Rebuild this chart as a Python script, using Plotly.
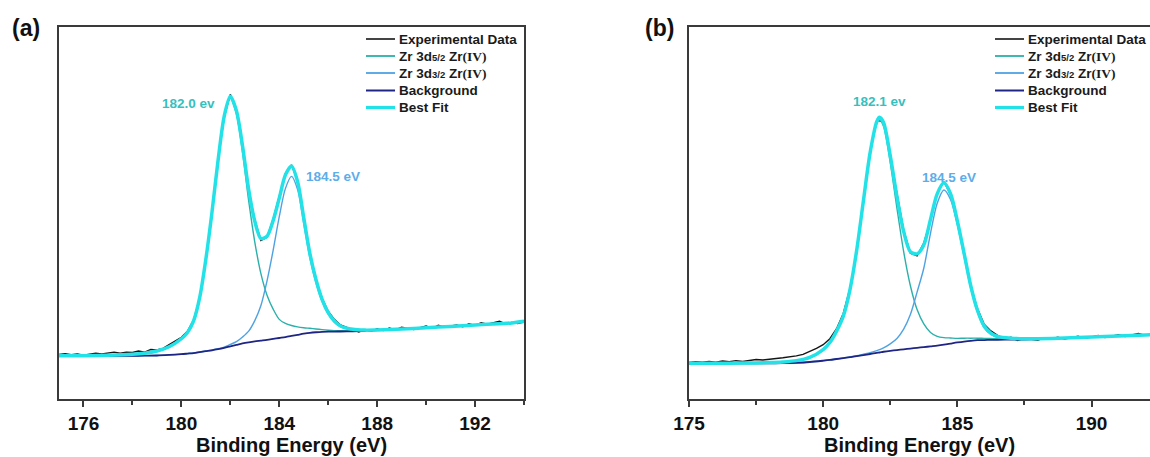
import numpy as np
import plotly.graph_objects as go

W, H = 1150, 457
FONT = "Liberation Sans, Arial, Helvetica, sans-serif"

# line colours
C_DATA = "#151515"
C_D52 = "#2AB0AA"
C_D32 = "#4FA2E2"
C_BG = "#1E2584"
C_FIT = "#22E2E8"
C_LBL52 = "#36C0BE"
C_LBL32 = "#5CADEA"
C_AX = "#3a3a3a"

SERIES_NAMES = [
    "<b>Experimental Data</b>",
    "<b>Zr 3d</b><span style='font-size:9.5px'><b>5/2</b></span><b> Zr</b>"
    "<span style='font-family:Liberation Serif'><b>(IV)</b></span>",
    "<b>Zr 3d</b><span style='font-size:9.5px'><b>3/2</b></span><b> Zr</b>"
    "<span style='font-family:Liberation Serif'><b>(IV)</b></span>",
    "<b>Background</b>",
    "<b>Best Fit</b>",
]

# ---------------- panel (a) ----------------
a_exp_start = 175.0
a_exp_step = 0.25
a_exp = [
    12.0, 12.2, 11.9, 12.1, 11.8, 12.0, 12.3, 12.1, 12.4, 12.6,
    12.3, 12.6, 12.5, 12.9, 12.6, 13.3, 13.2, 13.6, 14.6, 15.5,
    16.6, 18.2, 21.3, 27.1, 37.8, 50.0, 64.4, 75.7, 81.9, 77.2,
    68.3, 56.0, 48.1, 42.6, 43.5, 48.4, 54.5, 60.6, 62.9, 58.7,
    48.9, 39.4, 32.0, 27.1, 23.6, 21.4, 19.9, 19.3, 18.5, 18.0,
    18.6, 18.2, 18.9, 18.4, 19.1, 18.6, 19.3, 18.9, 18.7, 19.2,
    19.6, 19.0, 19.8, 19.3, 19.7, 19.9, 19.4, 20.2, 19.8, 20.5,
    20.1, 20.4, 20.9, 20.2, 20.6, 20.3, 21.1,
]
a_model_x = [
    175, 176, 177, 178, 178.5, 179, 179.5, 180, 180.25, 180.5, 180.75,
    181, 181.25, 181.5, 181.75, 182, 182.25, 182.5, 182.75, 183, 183.25,
    183.5, 183.75, 184, 184.25, 184.5, 184.75, 185, 185.25, 185.5, 185.75,
    186, 186.25, 186.5, 187, 187.5, 188, 189, 190, 191, 192, 193, 193.5, 194,
]
a_bg = [
    11.6, 11.6, 11.6, 11.6, 11.65, 11.7, 11.85, 12.05, 12.2, 12.35, 12.6,
    12.85, 13.1, 13.4, 13.75, 14.15, 14.55, 14.95, 15.25, 15.5, 15.7,
    15.9, 16.15, 16.4, 16.65, 16.95, 17.25, 17.55, 17.8, 17.95, 18.05,
    18.1, 18.12, 18.15, 18.2, 18.3, 18.5, 18.8, 19.15, 19.5, 19.9, 20.25, 20.4, 20.7,
]
a_d52 = [
    11.6, 11.62, 11.73, 12.0, 12.3, 12.9, 14.05, 16.2, 17.9, 21.0, 27.3,
    37.5, 50.1, 64.1, 75.8, 80.85, 76.6, 66.3, 53.3, 42.2, 33.7,
    27.9, 24.15, 21.4, 20.32, 19.75, 19.38, 19.15, 19.0, 18.82, 18.65,
    18.5, 18.39, 18.35, 18.3, 18.35, 18.52, 18.81, 19.15, 19.5, 19.9, 20.25, 20.4, 20.7,
]
a_d32 = [
    11.6, 11.6, 11.6, 11.6, 11.65, 11.7, 11.85, 12.05, 12.2, 12.37, 12.63,
    12.9, 13.17, 13.5, 13.95, 14.66, 15.41, 16.67, 18.25, 21.08, 25.14,
    31.77, 39.96, 49.0, 56.55, 59.85, 56.29, 47.15, 37.96, 31.25, 26.2,
    22.82, 20.69, 19.44, 18.63, 18.47, 18.57, 18.8, 19.15, 19.5, 19.9, 20.25, 20.4, 20.7,
]
a_fit = [
    11.6, 11.62, 11.73, 12.0, 12.3, 12.9, 14.05, 16.2, 17.9, 21.02, 27.33,
    37.55, 50.17, 64.2, 76.0, 81.36, 77.46, 68.02, 56.3, 47.78, 43.14,
    43.77, 47.96, 54.0, 60.22, 62.65, 58.42, 48.75, 39.16, 32.12, 26.8,
    23.22, 20.96, 19.64, 18.73, 18.52, 18.57, 18.81, 19.15, 19.5, 19.9, 20.25, 20.45, 20.9,
]
a_peak_labels = ["182.0 ev", "184.5 eV"]
a_peak_label_pos = [(180.28, 79.5), (186.2, 59.8)]

# ---------------- panel (b) ----------------
b_exp_start = 175.0
b_exp_step = 0.25
b_exp = [
    9.8, 10.0, 9.9, 10.1, 9.9, 10.2, 10.0, 10.3, 10.1, 10.4,
    10.6, 10.5, 10.8, 10.9, 11.1, 11.3, 11.6, 12.0, 12.7, 13.6,
    14.6, 16.2, 18.9, 23.0, 29.8, 39.6, 53.0, 66.6, 74.9, 74.6,
    65.1, 54.8, 45.4, 39.2, 38.5, 41.9, 48.0, 55.4, 58.4, 55.0,
    47.6, 39.6, 30.2, 24.3, 20.1, 18.3, 17.1, 16.2, 16.6, 15.7,
    16.3, 16.0, 15.8, 16.5, 16.2, 16.6, 16.1, 16.5, 16.9, 16.3,
    16.7, 17.1, 16.5, 16.9, 17.3, 16.8, 17.2, 17.6, 17.1, 17.4,
    17.3,
]
b_model_x = [
    175, 176, 177, 178, 178.5, 179, 179.5, 180, 180.25, 180.5, 180.75,
    181, 181.25, 181.5, 181.75, 182, 182.1, 182.25, 182.5, 182.75, 183,
    183.25, 183.5, 183.75, 184, 184.25, 184.5, 184.75, 185, 185.25, 185.5,
    185.75, 186, 186.25, 186.5, 187, 187.5, 188, 189, 190, 191, 192, 192.5,
]
b_bg = [
    9.6, 9.6, 9.6, 9.6, 9.65, 9.75, 9.95, 10.3, 10.5, 10.75, 11.0,
    11.25, 11.5, 11.8, 12.1, 12.4, 12.5, 12.7, 12.95, 13.15, 13.35,
    13.55, 13.75, 13.95, 14.15, 14.35, 14.6, 14.9, 15.2, 15.45, 15.65,
    15.8, 15.85, 15.9, 15.92, 15.95, 16.0, 16.1, 16.35, 16.65, 16.95, 17.2, 17.35,
]
b_d52 = [
    9.6, 9.62, 9.66, 9.79, 9.96, 10.31, 11.2, 13.3, 15.19, 18.25, 22.25,
    29.35, 39.9, 53.05, 65.85, 74.0, 75.0, 73.3, 63.55, 51.25, 39.6,
    30.45, 24.05, 20.2, 17.9, 16.85, 16.5, 16.4, 16.3, 16.35, 16.35,
    16.35, 16.3, 16.27, 16.22, 16.17, 16.15, 16.2, 16.38, 16.66, 16.95, 17.2, 17.35,
]
b_d32 = [
    9.6, 9.6, 9.6, 9.6, 9.65, 9.75, 9.95, 10.3, 10.5, 10.75, 11.02,
    11.33, 11.62, 12.05, 12.48, 13.02, 13.25, 13.74, 14.82, 16.27, 18.76,
    22.7, 28.73, 35.15, 44.55, 52.65, 56.2, 53.6, 46.8, 38.35, 29.75,
    23.3, 19.15, 17.36, 16.54, 16.12, 16.04, 16.1, 16.35, 16.65, 16.95, 17.2, 17.35,
]
b_fit = [
    9.6, 9.62, 9.66, 9.79, 9.96, 10.31, 11.2, 13.3, 15.19, 18.25, 22.27,
    29.43, 40.02, 53.3, 66.23, 74.62, 75.75, 74.34, 65.42, 54.37, 45.01,
    39.6, 39.03, 41.4, 48.3, 55.15, 58.1, 55.1, 47.9, 39.25, 30.45,
    23.85, 19.6, 17.73, 16.84, 16.34, 16.19, 16.2, 16.38, 16.66, 16.95, 17.2, 17.35,
]
b_peak_labels = ["182.1 ev", "184.5 eV"]
b_peak_label_pos = [(182.1, 80.0), (184.7, 59.6)]


def px(xp):
    return xp / W


def py(yp):
    return 1 - yp / H


fig = go.Figure()

panels = [
    dict(xa="x", ya="y", exp=a_exp, exp0=a_exp_start, dx=a_exp_step, mx=a_model_x,
         bg=a_bg, d52=a_d52, d32=a_d32, fit=a_fit),
    dict(xa="x2", ya="y2", exp=b_exp, exp0=b_exp_start, dx=b_exp_step, mx=b_model_x,
         bg=b_bg, d52=b_d52, d32=b_d32, fit=b_fit),
]

for p in panels:
    exp_x = p["exp0"] + p["dx"] * np.arange(len(p["exp"]))
    fig.add_trace(go.Scatter(x=exp_x, y=p["exp"], mode="lines", name="Experimental Data",
                             line=dict(color=C_DATA, width=1.4), xaxis=p["xa"], yaxis=p["ya"],
                             showlegend=False))
    fig.add_trace(go.Scatter(x=p["mx"], y=p["d52"], mode="lines", name="Zr 3d5/2 Zr(IV)",
                             line=dict(color=C_D52, width=1.4, shape="spline", smoothing=0.8),
                             xaxis=p["xa"], yaxis=p["ya"], showlegend=False))
    fig.add_trace(go.Scatter(x=p["mx"], y=p["d32"], mode="lines", name="Zr 3d3/2 Zr(IV)",
                             line=dict(color=C_D32, width=1.4, shape="spline", smoothing=0.8),
                             xaxis=p["xa"], yaxis=p["ya"], showlegend=False))
    fig.add_trace(go.Scatter(x=p["mx"], y=p["bg"], mode="lines", name="Background",
                             line=dict(color=C_BG, width=1.8, shape="spline", smoothing=0.8),
                             xaxis=p["xa"], yaxis=p["ya"], showlegend=False))
    fig.add_trace(go.Scatter(x=p["mx"], y=p["fit"], mode="lines", name="Best Fit",
                             line=dict(color=C_FIT, width=3.5, shape="spline", smoothing=0.8),
                             xaxis=p["xa"], yaxis=p["ya"], showlegend=False))

tickfont = dict(family=FONT, size=19, color="#111111", weight="bold")
titlefont = dict(family=FONT, size=20, color="#111111", weight="bold")

common_x = dict(
    showline=True, linecolor=C_AX, linewidth=1.6, mirror=True,
    ticks="outside", ticklen=6, tickwidth=1.5, tickcolor=C_AX,
    showgrid=False, zeroline=False, tickfont=tickfont, automargin=False,
    title=dict(text="Binding Energy (eV)", font=titlefont, standoff=2),
)
common_y = dict(
    showline=True, linecolor=C_AX, linewidth=1.6,
    showticklabels=False, ticks="", showgrid=False, zeroline=False,
    range=[0, 100], automargin=False,
)

y_dom = [py(399), py(27)]

fig.update_layout(
    width=W, height=H, autosize=False,
    margin=dict(l=0, r=0, t=0, b=0),
    paper_bgcolor="white", plot_bgcolor="white",
    xaxis=dict(common_x, domain=[px(59), px(524)], range=[175, 194],
               tickmode="linear", tick0=176, dtick=4,
               minor=dict(ticks="outside", ticklen=4, tickwidth=1.5, tickcolor=C_AX,
                          tick0=176, dtick=2, showgrid=False),
               anchor="y"),
    yaxis=dict(common_y, domain=y_dom, mirror=True, anchor="x"),
    xaxis2=dict(common_x, domain=[px(689), 1.0], range=[175, 192.18],
                tickmode="linear", tick0=175, dtick=5,
                minor=dict(ticks="outside", ticklen=4, tickwidth=1.5, tickcolor=C_AX,
                           tick0=175, dtick=2.5, showgrid=False),
                anchor="y2"),
    yaxis2=dict(common_y, domain=y_dom, mirror=False, anchor="x2"),
)

annotations = []
shapes = []

# panel letters
for txt, xc in [("(a)", 26), ("(b)", 659)]:
    annotations.append(dict(text=f"<b>{txt}</b>", x=px(xc), y=py(28), xref="paper", yref="paper",
                            xanchor="center", yanchor="middle", showarrow=False,
                            font=dict(family=FONT, size=23, color="#111111")))

# peak position labels
for labels, pos, xr, yr in [(a_peak_labels, a_peak_label_pos, "x", "y"),
                            (b_peak_labels, b_peak_label_pos, "x2", "y2")]:
    for txt, (xv, yv), col in zip(labels, pos, [C_LBL52, C_LBL32]):
        annotations.append(dict(text=f"<b>{txt}</b>", x=xv, y=yv, xref=xr, yref=yr,
                                xanchor="center", yanchor="middle", showarrow=False,
                                font=dict(family=FONT, size=13.5, color=col)))

# legends drawn as line samples plus text
legend_colors = [C_DATA, C_D52, C_D32, C_BG, C_FIT]
legend_widths = [1.6, 1.8, 1.8, 2.0, 3.2]
row_y = [39, 56, 73, 90.5, 107.5]
for x0, x1, xt in [(366, 395, 397), (995, 1024, 1026)]:
    for name, col, lw, yy in zip(SERIES_NAMES, legend_colors, legend_widths, row_y):
        shapes.append(dict(type="line", xref="paper", yref="paper",
                           x0=px(x0), x1=px(x1), y0=py(yy), y1=py(yy),
                           line=dict(color=col, width=lw)))
        annotations.append(dict(text=name, x=px(xt), y=py(yy), xref="paper", yref="paper",
                                xanchor="left", yanchor="middle", showarrow=False,
                                font=dict(family=FONT, size=13.5, color="#1a1a1a")))

fig.update_layout(annotations=annotations, shapes=shapes)

fig.write_html("out.html")
